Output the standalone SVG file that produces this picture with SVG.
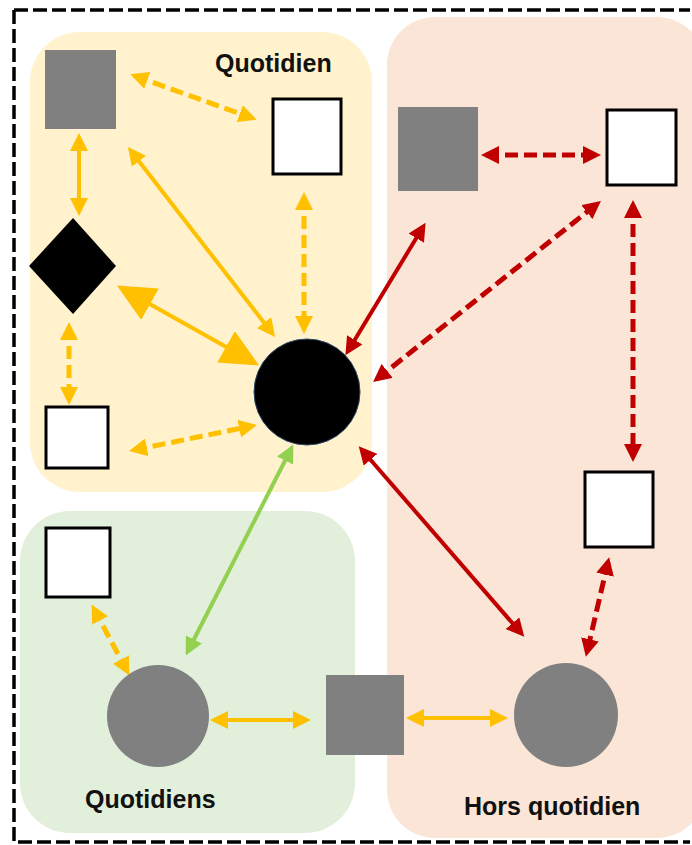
<svg xmlns="http://www.w3.org/2000/svg" width="692" height="845" viewBox="0 0 692 845">
<defs>
<style>
.lbl{font-family:"Liberation Sans",Arial,sans-serif;font-weight:bold;font-size:25px;fill:#111}
.y{stroke:#FFC000;fill:none;stroke-width:4}
.r{stroke:#C00000;fill:none;stroke-width:4}
.g{stroke:#92D050;fill:none;stroke-width:4}
.d{stroke-width:5;stroke-dasharray:13 6}
.ws{fill:#fff;stroke:#000;stroke-width:3}
.gs{fill:#808080}
</style>
<marker id="ay" markerUnits="userSpaceOnUse" viewBox="0 0 18 18" refX="13" refY="9" markerWidth="18" markerHeight="18" orient="auto-start-reverse"><path d="M0,0 L18,9 L0,18 Z" fill="#FFC000"/></marker>
<marker id="ayb" markerUnits="userSpaceOnUse" viewBox="0 0 38 36" refX="31" refY="18" markerWidth="38" markerHeight="36" orient="auto-start-reverse"><path d="M0,0 L38,18 L0,36 Z" fill="#FFC000"/></marker>
<marker id="ar" markerUnits="userSpaceOnUse" viewBox="0 0 18 18" refX="13" refY="9" markerWidth="18" markerHeight="18" orient="auto-start-reverse"><path d="M0,0 L18,9 L0,18 Z" fill="#C00000"/></marker>
<marker id="ag" markerUnits="userSpaceOnUse" viewBox="0 0 18 18" refX="13" refY="9" markerWidth="18" markerHeight="18" orient="auto-start-reverse"><path d="M0,0 L18,9 L0,18 Z" fill="#92D050"/></marker>
</defs>
<rect width="692" height="845" fill="#fff"/>
<g id="zones">
<rect x="387" y="17" width="318" height="821" rx="48" fill="#FBE5D6"/>
<rect x="30" y="32" width="342" height="460" rx="50" fill="#FFF2CC"/>
<rect x="20" y="511" width="335" height="322" rx="50" fill="#E2EFDA"/>
<path d="M14,10 H690 M14,10 V842 H690" fill="none" stroke="#000" stroke-width="3.5" stroke-dasharray="14 5"/>
<text class="lbl" x="215" y="72">Quotidien</text>
<text class="lbl" x="85" y="808">Quotidiens</text>
<text class="lbl" x="464" y="815">Hors quotidien</text>
</g>
<g id="connectors">
<line class="y d" x1="135" y1="76" x2="252" y2="118" marker-start="url(#ay)" marker-end="url(#ay)"/>
<line class="y" x1="79" y1="138" x2="79" y2="211" marker-start="url(#ay)" marker-end="url(#ay)"/>
<line class="y" stroke-width="3.5" x1="131" y1="151" x2="272" y2="333" marker-start="url(#ay)" marker-end="url(#ay)"/>
<line class="y d" x1="304" y1="197" x2="304" y2="329" marker-start="url(#ay)" marker-end="url(#ay)"/>
<line class="y" stroke-width="9" x1="123" y1="289" x2="253" y2="362" marker-start="url(#ayb)" marker-end="url(#ayb)"/>
<line class="y d" x1="69" y1="327" x2="69" y2="400" marker-start="url(#ay)" marker-end="url(#ay)"/>
<line class="y d" x1="134" y1="450" x2="252" y2="426" marker-start="url(#ay)" marker-end="url(#ay)"/>
<line class="g" x1="291" y1="449" x2="188" y2="651" marker-start="url(#ag)" marker-end="url(#ag)"/>
<line class="y d" x1="94" y1="609" x2="127" y2="671" marker-start="url(#ay)" marker-end="url(#ay)"/>
<line class="y" x1="215" y1="720" x2="306" y2="720" marker-start="url(#ay)" marker-end="url(#ay)"/>
<line class="y" x1="411" y1="718" x2="503" y2="718" marker-start="url(#ay)" marker-end="url(#ay)"/>
<line class="r" x1="362" y1="450" x2="521" y2="633" marker-start="url(#ar)" marker-end="url(#ar)"/>
<line class="r d" x1="608" y1="562" x2="587" y2="652" marker-start="url(#ar)" marker-end="url(#ar)"/>
<line class="r d" stroke-dasharray="15 7" x1="633" y1="205" x2="633" y2="457" marker-start="url(#ar)" marker-end="url(#ar)"/>
<line class="r d" x1="486" y1="155" x2="596" y2="155" marker-start="url(#ar)" marker-end="url(#ar)"/>
<line class="r d" stroke-dasharray="15 7" x1="377" y1="379" x2="597" y2="204" marker-start="url(#ar)" marker-end="url(#ar)"/>
<line class="r" x1="348" y1="351" x2="423" y2="227" marker-start="url(#ar)" marker-end="url(#ar)"/>
</g>
<g id="n-gray-tl"><rect class="gs" x="45" y="50" width="71" height="79"/></g>
<g id="n-white-top"><rect class="ws" x="273" y="99" width="68" height="75"/></g>
<g id="n-diamond"><polygon points="73,218 116,266 73,314 29,266" fill="#000"/></g>
<g id="n-white-bl"><rect class="ws" x="46" y="407" width="62" height="61"/></g>
<g id="n-center"><circle cx="307" cy="392" r="53" fill="#000" stroke="#2E4A6B" stroke-width="1"/></g>
<g id="n-gray-tr"><rect class="gs" x="398" y="107" width="80" height="84"/></g>
<g id="n-white-tr"><rect class="ws" x="607" y="110" width="69" height="75"/></g>
<g id="n-white-rm"><rect class="ws" x="585" y="472" width="68" height="75"/></g>
<g id="n-white-green"><rect class="ws" x="46" y="528" width="64" height="69"/></g>
<g id="n-gray-circle-l"><circle cx="158" cy="716" r="51" fill="#808080"/></g>
<g id="n-gray-sq-b"><rect class="gs" x="326" y="675" width="78" height="80"/></g>
<g id="n-gray-circle-r"><circle cx="566" cy="715" r="52" fill="#808080"/></g>
</svg>
